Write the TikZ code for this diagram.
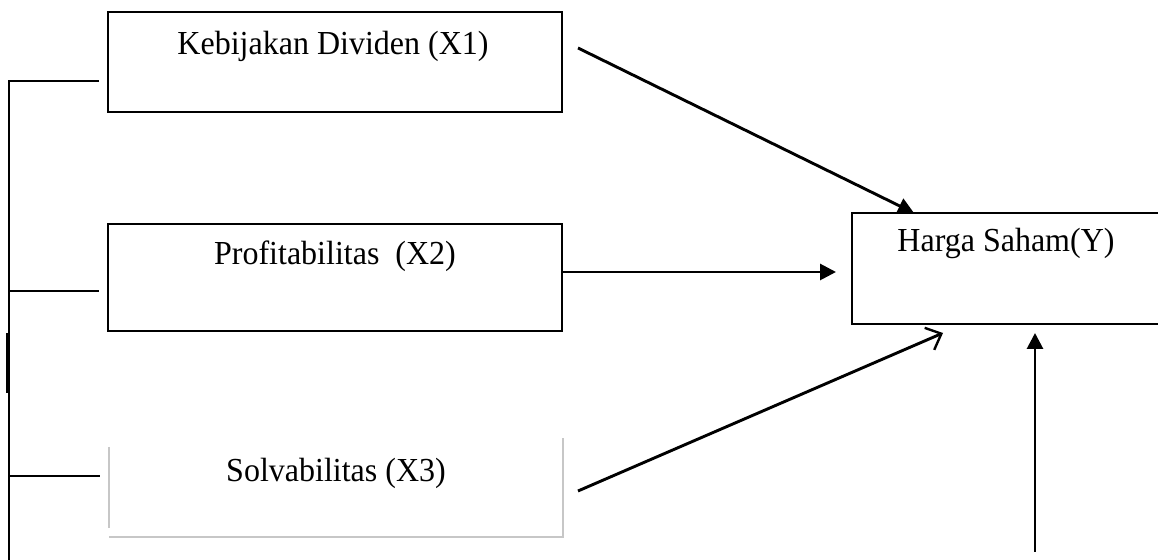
\documentclass[tikz,border=0pt]{standalone}
\usepackage{fontspec}
\setmainfont{Liberation Serif}
\usetikzlibrary{arrows.meta}
\tikzset{
  boxframe/.style={draw=black, line width=1.2pt, inner sep=0pt},
  lbl/.style={anchor=base, inner sep=0pt, font=\fontsize{16}{19}\selectfont},
  conn/.style={line width=1.45pt, black},
  fillhead/.style={conn, -{Triangle[length=8pt, width=8pt]}},
  openhead/.style={conn, -{Straight Barb[length=6.5pt, width=12pt, line width=1.2pt]}},
  faint/.style={draw=black!22, line width=0.6pt}
}
\begin{document}
\begin{tikzpicture}[x=0.5pt, y=-0.5pt]
\useasboundingbox (0,0) rectangle (1158,560);
\clip (0,0) rectangle (1158,560);
% boxes
\node[boxframe, minimum width=227pt, minimum height=50pt] (b1) at (335,62) {};
\node[boxframe, minimum width=227pt, minimum height=53.5pt] (b2) at (335,277.5) {};
\node[inner sep=0pt, minimum width=227pt, minimum height=46pt] (b3) at (336,490) {};
\draw[faint] (109,447) -- (109,528);
\draw[faint] (109,537) -- (563,537) -- (563,438);
\node[boxframe, minimum width=160pt, minimum height=55.5pt, anchor=north west] (y) at (851,212) {};
% labels
\node[lbl, yscale=1.05] (t1) at (333,55) {Kebijakan Dividen (X1)};
\node[lbl, yscale=1.05] (t2) at (335,265) {Profitabilitas\ \ (X2)};
\node[lbl, yscale=1.05] (t3) at (336,482) {Solvabilitas (X3)};
\node[lbl, yscale=1.05] (t4) at (1006,252) {Harga Saham(Y)};
% left bracket
\coordinate (l0) at (9,81);
\coordinate (l1) at (9,291);
\coordinate (l2) at (9,476);
\coordinate (lb) at (9,562);
\coordinate (r0) at (99,81);
\coordinate (r1) at (99,291);
\coordinate (r2) at (100,476);
\draw[line width=1.1pt] (r0) -- (l0) -- (lb);
\draw[line width=1.1pt] (l1) -- (r1);
\draw[line width=1.1pt] (l2) -- (r2);
\coordinate (k0) at (7.5,333);
\coordinate (k1) at (7.5,393);
\draw[line width=1.1pt] (k0) -- (k1);
% arrows
\coordinate (s1) at (578,48);
\coordinate (e1) at (914,213);
\draw[fillhead] (s1) -- (e1);
\coordinate (s2) at (563,272);
\coordinate (e2) at (836,272);
\draw[fillhead] (s2) -- (e2);
\coordinate (s3) at (578,491);
\coordinate (e3) at (943,333);
\draw[openhead] (s3) -- (e3);
\coordinate (s4) at (1035,552);
\coordinate (e4) at (1035,333);
\draw[fillhead] (s4) -- (e4);
\end{tikzpicture}
\end{document}
